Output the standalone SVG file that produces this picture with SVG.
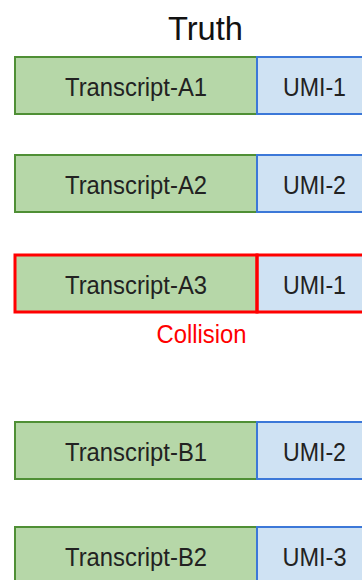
<svg xmlns="http://www.w3.org/2000/svg" width="362" height="580" viewBox="0 0 362 580">
  <style>
    .tx { fill: #b6d7a8; stroke: #4f8f35; stroke-width: 2; }
    .umi { fill: #cfe2f3; stroke: #3c78d8; stroke-width: 2; }
    .hit { fill: none; stroke: #ff0000; stroke-width: 3; }
    .lbl { font-family: "Liberation Sans", Arial, sans-serif; font-size: 25px; fill: #222; text-anchor: middle; }
  </style>
  <rect width="362" height="580" fill="#ffffff"/>
  <text x="205.5" y="40" class="lbl" style="font-size:33px;fill:#111" textLength="75" lengthAdjust="spacingAndGlyphs">Truth</text>

  <g id="row-a1">
    <rect class="tx" x="15" y="57" width="242" height="57"/>
    <rect class="umi" x="257" y="57" width="120" height="57"/>
    <text class="lbl" x="136" y="96" textLength="142" lengthAdjust="spacingAndGlyphs">Transcript-A1</text>
    <text class="lbl" x="314.5" y="96" textLength="63" lengthAdjust="spacingAndGlyphs">UMI-1</text>
  </g>

  <g id="row-a2">
    <rect class="tx" x="15" y="155" width="242" height="57"/>
    <rect class="umi" x="257" y="155" width="120" height="57"/>
    <text class="lbl" x="136" y="194" textLength="142" lengthAdjust="spacingAndGlyphs">Transcript-A2</text>
    <text class="lbl" x="314.5" y="194" textLength="63" lengthAdjust="spacingAndGlyphs">UMI-2</text>
  </g>

  <g id="row-a3">
    <rect class="tx" x="15" y="255" width="242" height="57"/>
    <rect class="umi" x="257" y="255" width="120" height="57"/>
    <rect class="hit" x="15" y="255" width="242" height="57"/>
    <rect class="hit" x="257" y="255" width="120" height="57"/>
    <text class="lbl" x="136" y="294" textLength="142" lengthAdjust="spacingAndGlyphs">Transcript-A3</text>
    <text class="lbl" x="314.5" y="294" textLength="63" lengthAdjust="spacingAndGlyphs">UMI-1</text>
    <text class="lbl" x="201.5" y="343" style="fill:#ff0000" textLength="90" lengthAdjust="spacingAndGlyphs">Collision</text>
  </g>

  <g id="row-b1">
    <rect class="tx" x="15" y="422" width="242" height="57"/>
    <rect class="umi" x="257" y="422" width="120" height="57"/>
    <text class="lbl" x="136" y="461" textLength="142" lengthAdjust="spacingAndGlyphs">Transcript-B1</text>
    <text class="lbl" x="314.5" y="461" textLength="63" lengthAdjust="spacingAndGlyphs">UMI-2</text>
  </g>

  <g id="row-b2">
    <rect class="tx" x="15" y="527" width="242" height="70"/>
    <rect class="umi" x="257" y="527" width="120" height="70"/>
    <text class="lbl" x="136" y="566" textLength="142" lengthAdjust="spacingAndGlyphs">Transcript-B2</text>
    <text class="lbl" x="314.5" y="566" textLength="64" lengthAdjust="spacingAndGlyphs">UMI-3</text>
  </g>

  <g id="connectors"/>
</svg>
